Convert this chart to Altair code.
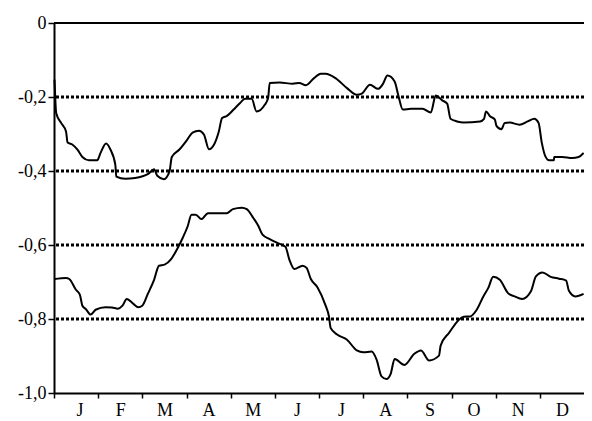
import altair as alt
import pandas as pd

month_labels = ["J", "F", "M", "A", "M", "J", "J", "A", "S", "O", "N", "D"]
y_ticks = [0, -0.2, -0.4, -0.6, -0.8, -1.0]
grid_values = [-0.2, -0.4, -0.6, -0.8]

# upper series (x in months from 1 Jan, 0..12)
upper_month = [0.011, 0.033, 0.049, 0.161, 0.272, 0.308, 0.420, 0.531, 0.643, 0.792,
               0.978, 1.054, 1.179, 1.277, 1.388, 1.411, 1.612, 1.835, 2.132, 2.266,
               2.339, 2.489, 2.616, 2.667, 2.839, 3.025, 3.136, 3.286, 3.397, 3.509,
               3.621, 3.732, 3.806, 3.917, 4.067, 4.214, 4.326, 4.475, 4.587, 4.772,
               4.848, 4.884, 5.107, 5.406, 5.554, 5.703, 5.888, 6.038, 6.150, 6.373,
               6.634, 6.857, 6.969, 7.154, 7.339, 7.451, 7.549, 7.712, 7.801, 7.897,
               8.085, 8.344, 8.531, 8.643, 8.790, 8.902, 8.978, 9.125, 9.275, 9.647,
               9.737, 9.781, 9.871, 9.982, 10.018, 10.129, 10.205, 10.317, 10.540, 10.725,
               10.875, 10.971, 11.045, 11.121, 11.210, 11.321, 11.323, 11.507, 11.730, 11.879,
               11.991]
upper_value = [-0.153, -0.215, -0.243, -0.270, -0.293, -0.323, -0.329, -0.342, -0.362, -0.371,
               -0.371, -0.351, -0.326, -0.342, -0.383, -0.415, -0.421, -0.419, -0.408, -0.395,
               -0.413, -0.422, -0.401, -0.362, -0.342, -0.314, -0.296, -0.291, -0.302, -0.341,
               -0.329, -0.293, -0.257, -0.251, -0.234, -0.216, -0.205, -0.205, -0.239, -0.221,
               -0.203, -0.162, -0.161, -0.164, -0.162, -0.168, -0.149, -0.137, -0.137, -0.149,
               -0.176, -0.194, -0.191, -0.167, -0.178, -0.164, -0.142, -0.158, -0.198, -0.234,
               -0.232, -0.232, -0.242, -0.196, -0.209, -0.218, -0.259, -0.266, -0.269, -0.266,
               -0.259, -0.239, -0.252, -0.261, -0.278, -0.287, -0.270, -0.269, -0.275, -0.266,
               -0.259, -0.270, -0.324, -0.359, -0.371, -0.371, -0.362, -0.362, -0.365, -0.362,
               -0.351]

# lower series
lower_month = [0.011, 0.272, 0.346, 0.496, 0.585, 0.643, 0.719, 0.830, 0.942, 1.165,
               1.313, 1.446, 1.551, 1.647, 1.797, 1.908, 1.998, 2.132, 2.266, 2.377,
               2.504, 2.652, 2.801, 2.913, 3.025, 3.114, 3.210, 3.337, 3.487, 3.694,
               3.917, 4.051, 4.252, 4.364, 4.513, 4.625, 4.721, 4.884, 5.071, 5.241,
               5.330, 5.442, 5.629, 5.719, 5.815, 5.964, 6.150, 6.225, 6.263, 6.411,
               6.634, 6.857, 7.004, 7.192, 7.304, 7.415, 7.527, 7.623, 7.712, 7.935,
               8.158, 8.308, 8.493, 8.717, 8.754, 8.940, 9.275, 9.424, 9.571, 9.721,
               9.833, 9.944, 10.094, 10.279, 10.429, 10.598, 10.799, 10.911, 11.060, 11.246,
               11.433, 11.596, 11.656, 11.804, 11.991]
lower_value = [-0.692, -0.689, -0.692, -0.721, -0.734, -0.764, -0.773, -0.788, -0.775, -0.768,
               -0.769, -0.772, -0.764, -0.746, -0.759, -0.768, -0.764, -0.730, -0.694, -0.656,
               -0.653, -0.638, -0.608, -0.581, -0.550, -0.518, -0.518, -0.530, -0.514, -0.514,
               -0.514, -0.503, -0.499, -0.503, -0.527, -0.548, -0.572, -0.584, -0.595, -0.605,
               -0.640, -0.665, -0.656, -0.662, -0.692, -0.714, -0.764, -0.793, -0.824, -0.842,
               -0.856, -0.885, -0.890, -0.888, -0.910, -0.955, -0.962, -0.948, -0.908, -0.924,
               -0.894, -0.885, -0.912, -0.899, -0.872, -0.838, -0.794, -0.793, -0.775, -0.739,
               -0.716, -0.686, -0.694, -0.730, -0.739, -0.746, -0.725, -0.685, -0.674, -0.686,
               -0.691, -0.696, -0.723, -0.739, -0.732]

df = pd.concat([
    pd.DataFrame({"month": upper_month, "value": upper_value, "series": "upper"}),
    pd.DataFrame({"month": lower_month, "value": lower_value, "series": "lower"}),
])

FONT = "Liberation Serif"
PLOT_W = 530
PLOT_H = 370

x_scale = alt.Scale(domain=[0, 12], nice=False, zero=False)
y_scale = alt.Scale(domain=[-1, 0], nice=False, zero=False)

month_expr = "[" + ",".join("'%s'" % m for m in month_labels) + "][datum.value]"
y_expr = "datum.value == 0 ? '0' : '-' + replace(format(abs(datum.value), '.1f'), '.', ',')"

x_axis = alt.Axis(values=list(range(12)), labelExpr=month_expr, labelOffset=PLOT_W / 24,
                  title=None, grid=False, domainColor="black", domainWidth=2,
                  tickColor="black", tickWidth=1.5, tickSize=5, labelPadding=3,
                  labelFont=FONT, labelFontSize=18, labelColor="black")
y_axis = alt.Axis(values=y_ticks, labelExpr=y_expr, title=None, grid=False,
                  domainColor="black", domainWidth=2, tickColor="black", tickWidth=1.5,
                  tickSize=6, labelPadding=2, labelFont=FONT, labelFontSize=18,
                  labelColor="black")

grid = alt.Chart(pd.DataFrame({"y": grid_values})).mark_rule(
    color="black", strokeWidth=2.8, strokeDash=[3, 2]
).encode(y=alt.Y("y:Q", scale=y_scale, axis=y_axis))

top = alt.Chart(pd.DataFrame({"y": [0]})).mark_rule(
    color="black", strokeWidth=1.8
).encode(y=alt.Y("y:Q", scale=y_scale))

lines = alt.Chart(df).mark_line(
    color="black", strokeWidth=2, interpolate="monotone"
).encode(
    x=alt.X("month:Q", scale=x_scale, axis=x_axis),
    y=alt.Y("value:Q", scale=y_scale, axis=y_axis),
    detail="series:N",
)

chart = alt.layer(grid, top, lines).properties(
    width=PLOT_W, height=PLOT_H,
    autosize=alt.AutoSizeParams(type="none"),
    padding={"left": 46, "top": 15, "right": 0, "bottom": 28},
).configure_view(stroke=None).configure(background="white")

chart.save("out.html", embed_options={"renderer": "svg", "actions": False})
